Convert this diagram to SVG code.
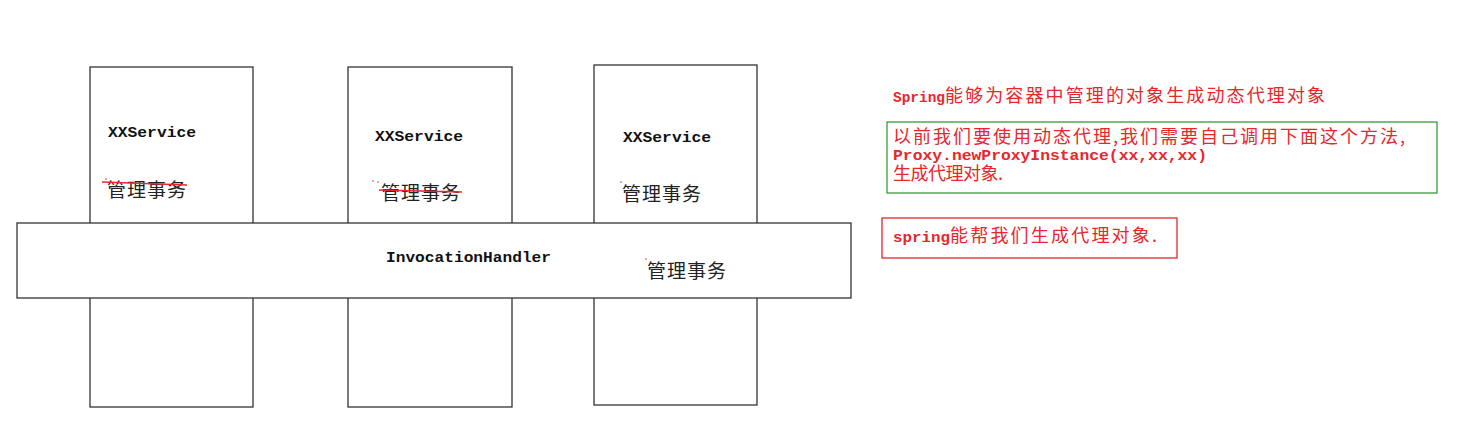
<svg xmlns="http://www.w3.org/2000/svg" width="1463" height="425" viewBox="0 0 1463 425">
<style>
.box{fill:#fff;stroke:#333;stroke-width:1.3}
.mono{font-family:"Liberation Mono","DejaVu Sans Mono",monospace;font-weight:bold;font-size:15px;fill:#111}
.cjk{font-family:"Noto Sans CJK SC","Noto Sans",sans-serif;font-size:19px;fill:#222}
.rmono{font-family:"Liberation Mono","DejaVu Sans Mono",monospace;font-weight:bold;font-size:15px;fill:#e8262c}
.rcjk{font-family:"Noto Sans CJK SC","Noto Sans",sans-serif;font-size:18px;fill:#e8262c}
.strike{stroke:#e8262c;stroke-width:1.5;fill:none}
</style>
<rect width="1463" height="425" fill="#fff"/>
<g id="service1">
<rect class="box" x="90" y="67" width="163" height="340"/>
<text class="mono" x="108" y="137" textLength="88" lengthAdjust="spacingAndGlyphs">XXService</text>
<text class="cjk" x="107" y="197" textLength="79">管理事务</text>
<line class="strike" x1="102" y1="182" x2="187" y2="185"/>
<circle cx="106" cy="179" r="0.8" fill="#e8262c"/>
</g>
<g id="service2">
<rect class="box" x="348" y="67" width="164" height="340"/>
<text class="mono" x="375" y="141" textLength="88" lengthAdjust="spacingAndGlyphs">XXService</text>
<text class="cjk" x="381" y="200" textLength="79">管理事务</text>
<line class="strike" x1="379" y1="190" x2="462" y2="192"/>
<circle cx="373" cy="181" r="0.8" fill="#e8262c"/>
<circle cx="378" cy="182" r="0.8" fill="#e8262c"/>
</g>
<g id="service3">
<rect class="box" x="594" y="65" width="163" height="340"/>
<text class="mono" x="623" y="142" textLength="88" lengthAdjust="spacingAndGlyphs">XXService</text>
<text class="cjk" x="622" y="201" textLength="79">管理事务</text>
<circle cx="621" cy="182" r="0.8" fill="#e8262c"/>
</g>
<g id="invocationHandler">
<rect class="box" x="17" y="223" width="834" height="75"/>
<text class="mono" x="386" y="262" textLength="165" lengthAdjust="spacingAndGlyphs">InvocationHandler</text>
<text class="cjk" x="647" y="278" textLength="79">管理事务</text>
<circle cx="646" cy="259" r="0.8" fill="#e8262c"/>
</g>
<g id="note1">
<text x="893" y="102"><tspan class="rmono" textLength="52" lengthAdjust="spacingAndGlyphs">Spring</tspan><tspan class="rcjk" textLength="380">能够为容器中管理的对象生成动态代理对象</tspan></text>
</g>
<g id="note2">
<rect x="887" y="122" width="550" height="71" fill="none" stroke="#3a9a3a" stroke-width="1.3"/>
<text class="rcjk" x="893" y="143" textLength="512">以前我们要使用动态代理,我们需要自己调用下面这个方法,</text>
<text class="rmono" x="893" y="160" font-size="14.5" textLength="314" lengthAdjust="spacingAndGlyphs">Proxy.newProxyInstance(xx,xx,xx)</text>
<text class="rcjk" x="893" y="180" textLength="110">生成代理对象.</text>
</g>
<g id="note3">
<rect x="882" y="218" width="295" height="40" fill="none" stroke="#e8262c" stroke-width="1.3"/>
<text x="893" y="242"><tspan class="rmono" textLength="57" lengthAdjust="spacingAndGlyphs">spring</tspan><tspan class="rcjk" textLength="207">能帮我们生成代理对象.</tspan></text>
</g>
<g id="connectors"></g>
</svg>
